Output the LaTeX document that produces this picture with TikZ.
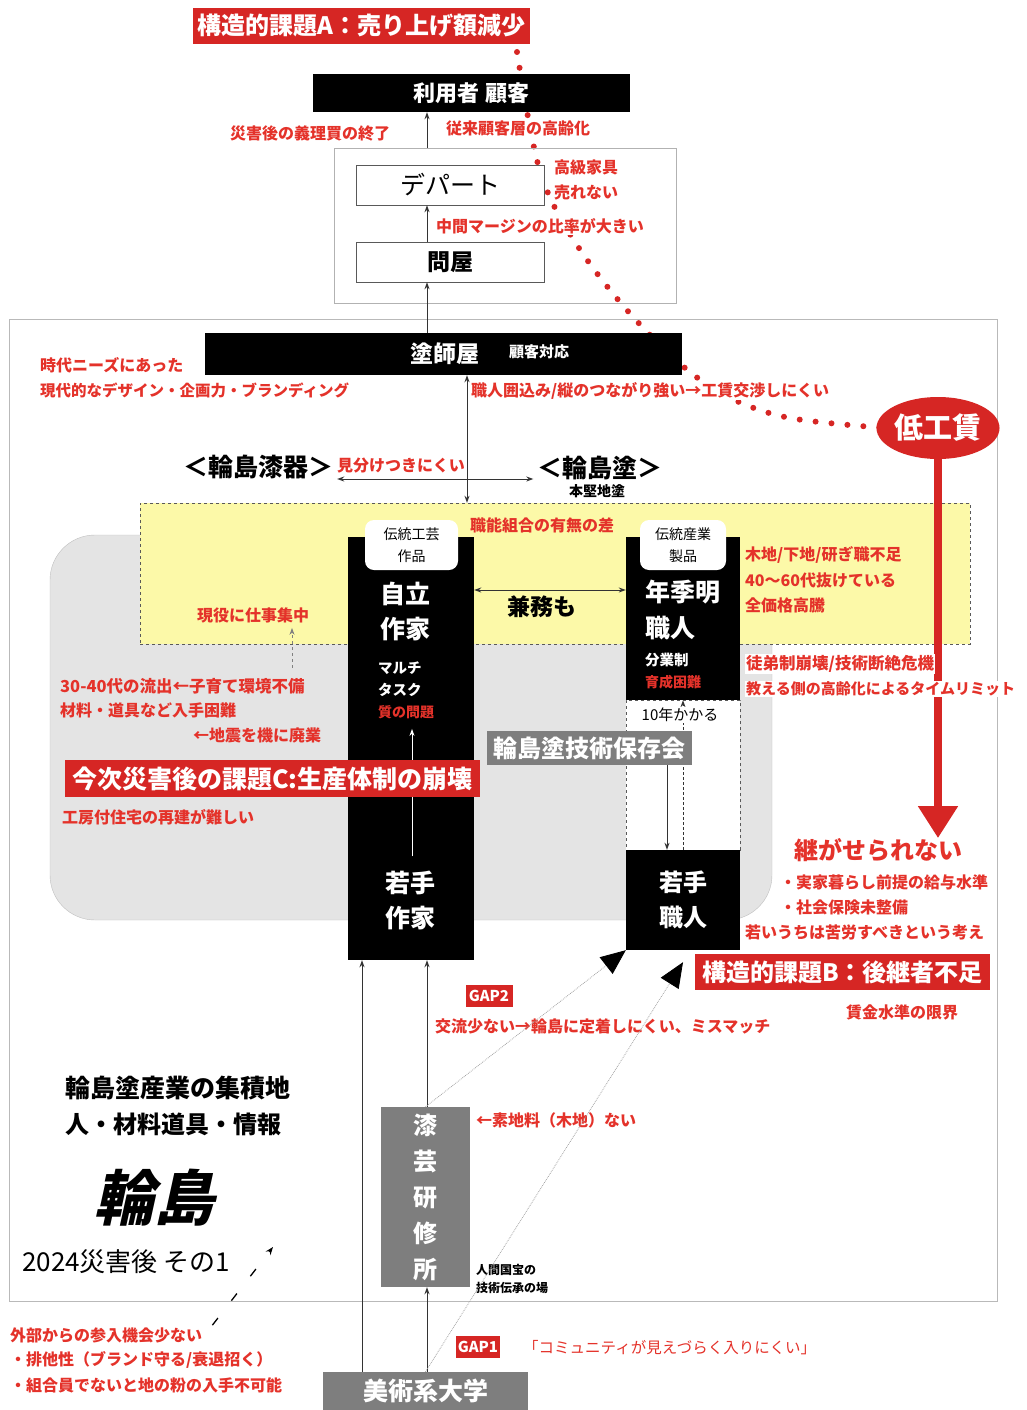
\documentclass[tikz,border=0pt]{standalone}
\usepackage{fontspec}
\setmainfont{Noto Sans CJK JP}
\usetikzlibrary{arrows.meta,positioning,calc,shapes.geometric}

\definecolor{akared}{RGB}{214,38,36}
\definecolor{memored}{RGB}{228,50,42}
\definecolor{panelgray}{RGB}{228,228,228}
\definecolor{boxgray}{RGB}{126,126,126}
\definecolor{pale}{RGB}{252,249,168}
\newcommand{\fsz}[1]{\fontsize{#1}{#1}\selectfont}

\tikzset{
  memo/.style={text=memored, font=\fsz{16}\bfseries, inner sep=0pt, anchor=west},
  blackbox/.style={fill=black, text=white, font=\fsz{23}\bfseries, inner sep=0pt},
  whitebox/.style={draw=gray!70!black, fill=white, inner sep=0pt},
  redbox/.style={fill=akared, text=white, font=\fsz{24}\bfseries, inner sep=0pt},
  graybox/.style={fill=boxgray, text=white, font=\fsz{24}\bfseries, inner sep=0pt},
  tagbox/.style={fill=white, rounded corners=9pt, font=\fontsize{14}{22}\selectfont, align=center, inner sep=0pt, minimum width=93pt, minimum height=50pt},
  intext/.style={text=white, font=\fontsize{25}{35}\selectfont\bfseries, inner sep=0pt},
  link/.style={draw=black!80, line width=1pt, -{Stealth[length=7pt,width=5pt]}},
  bilink/.style={link, {Stealth[length=7pt,width=5pt]}-{Stealth[length=7pt,width=5pt]}},
  gapline/.style={draw=gray!70, densely dotted, line width=0.8pt, -{Triangle[width=21pt,length=25pt,color=black]}},
}

\begin{document}
\begin{tikzpicture}[x=1pt, y=-1pt]
\useasboundingbox (0,0) rectangle (1027,1410);
\coordinate (spine) at (427,0);
\coordinate (vcol) at (467,0);
\coordinate (leftcol) at (362,0);
\coordinate (innercol) at (412,0);
\coordinate (kanecol) at (667,0);
\coordinate (yearcol) at (683,0);
\coordinate (dashcol) at (292,0);
\coordinate (kenrow) at (0,590);

% areas
\node[draw=gray!55, line width=1pt, minimum width=988pt, minimum height=982pt, inner sep=0pt] (frame) at (503,810) {};
\node[fill=panelgray, draw=gray!50, rounded corners=45pt, minimum width=722pt, minimum height=385pt, inner sep=0pt] (panel) at (411,727.5) {};
\node[fill=pale, draw=gray!70!black, dashed, minimum width=830pt, minimum height=141pt, inner sep=0pt] (zone) at (555,573.5) {};

% red dots A -> low wage
\draw[akared, line width=6pt, line cap=round, dash pattern=on 0pt off 16pt] plot[smooth, tension=0.6] coordinates {(517,52) (533,143) (548,193) (575,242) (610,290) (650,335) (690,372) (730,398) (790,418) (886,428)};

% top
\node[redbox, minimum width=337pt, minimum height=36pt] (issueA) at (361.5,26) {構造的課題A：売り上げ額減少};
\node[blackbox, minimum width=317pt, minimum height=38pt, font=\fsz{22}\bfseries] (user) at (471.5,93) {利用者 顧客};
\node[memo] (giri) at (230,133) {災害後の義理買の終了};
\node[memo, fill=white, inner sep=1pt] (elder) at (445,128) {従来顧客層の高齢化};
\node[draw=gray!60, line width=0.8pt, minimum width=342pt, minimum height=155pt, inner sep=0pt] (dist) at (505,225.5) {};
\node[whitebox, minimum width=188pt, minimum height=40pt, font=\fsz{25}] (dept) at (450,185) {デパート};
\node[whitebox, minimum width=188pt, minimum height=40pt, font=\fsz{23}\bfseries] (tonya) at (450,262) {問屋};
\node[memo, fill=white, inner sep=1pt] (kagu) at (553,167) {高級家具};
\node[memo, fill=white, inner sep=1pt] (urenai) at (553,192) {売れない};
\node[memo, fill=white, inner sep=1pt] (margin) at (435,226) {中間マージンの比率が大きい};

% nushiya
\node[blackbox, minimum width=477pt, minimum height=42pt] (nushi) at (443.5,354) {};
\node[text=white, font=\fsz{23}\bfseries, inner sep=0pt] (nushiname) at (445,354) {塗師屋};
\node[text=white, font=\fsz{15}\bfseries, inner sep=0pt] (nushirole) at (539,352) {顧客対応};
\node[memo] (jidai) at (40,365) {時代ニーズにあった};
\node[memo, font=\fsz{15.5}\bfseries] (gendai) at (40,390) {現代的なデザイン・企画力・ブランディング};
\node[memo, fill=white, inner sep=1pt] (kakoi) at (470,391) {職人囲込み/縦のつながり強い→工賃交渉しにくい};

\node[font=\fsz{25}\bfseries, inner sep=0pt] (shikki) at (258,467) {＜輪島漆器＞};
\node[font=\fsz{25}\bfseries, inner sep=0pt] (nuri) at (600,468) {＜輪島塗＞};
\node[font=\fsz{14}\bfseries, inner sep=0pt] (honkataji) at (597,491) {本堅地塗};
\node[memo] (miwake) at (337,466) {見分けつきにくい};

\draw[link] (dist.north -| spine) -- (user.south -| spine);
\draw[link] (tonya.north -| spine) -- (dept.south -| spine);
\draw[link] (nushi.north -| spine) -- (tonya.south -| spine);
\draw[bilink] (nushi.south -| vcol) -- (zone.north -| vcol);
\draw[bilink] ($(shikki.east)+(4,12)$) -- ($(nuri.west)+(-4,11)$);

% columns
\node[blackbox, minimum width=126pt, minimum height=423pt] (jiritsu) at (411,748.5) {};
\node[tagbox] (kogei) at (411.5,545) {伝統工芸\\作品};
\node[blackbox, minimum width=114pt, minimum height=163pt] (nenki) at (683,618.5) {};
\node[tagbox, minimum width=86pt] (sangyo) at (683,545) {伝統産業\\製品};
\node[draw=gray!70!black, dashed, fill=white, minimum width=114pt, minimum height=150pt, inner sep=0pt] (decade) at (683,775) {};
\node[blackbox, minimum width=114pt, minimum height=100pt, align=center, font=\fontsize{24}{35}\selectfont\bfseries] (wakashoku) at (683,900) {若手\\職人};

\node[intext, anchor=west, align=left] (jiritsuname) at (380,612) {自立\\作家};
\node[text=white, font=\fontsize{14.5}{22}\selectfont\bfseries, inner sep=0pt, anchor=west, align=left] (multi) at (378,679) {マルチ\\タスク};
\node[text=memored, font=\fsz{14}\bfseries, inner sep=0pt, anchor=west] (shitsu) at (378,712) {質の問題};
\node[intext, align=center] (wakasakka) at (410,900) {若手\\作家};
\node[intext, anchor=west, align=left, font=\fontsize{25}{36}\selectfont\bfseries] (nenkiname) at (645,610) {年季明\\職人};
\node[text=white, font=\fsz{14.5}\bfseries, inner sep=0pt, anchor=west] (bungyo) at (645,660) {分業制};
\node[text=memored, font=\fsz{14}\bfseries, inner sep=0pt, anchor=west] (ikusei) at (645,682) {育成困難};

\draw[link, draw=white, shorten <=14pt, shorten >=10pt] (wakasakka.north -| innercol) -- (shitsu.south -| innercol);
\draw[link, densely dashed] (wakashoku.north -| yearcol) -- (nenki.south -| yearcol);
\node[fill=white, font=\fsz{15}, inner sep=1pt] (tenyears) at (680,715) {10年かかる};
\node[graybox, minimum width=205pt, minimum height=34pt] (hozon) at (589.5,748) {輪島塗技術保存会};
\draw[link] (hozon.south -| kanecol) -- (wakashoku.north -| kanecol);

\draw[bilink] (jiritsu.east |- kenrow) -- (nenki.west |- kenrow);
\node[font=\fsz{23}\bfseries, inner sep=0pt] (kenmu) at (542,607) {兼務も};
\node[memo] (shokuno) at (470,525) {職能組合の有無の差};

% left notes
\node[memo] (genneki) at (197,615) {現役に仕事集中};
\node[memo, font=\fsz{16.5}\bfseries] (ryushutsu) at (60,686) {30-40代の流出←子育て環境不備};
\node[memo] (zairyo) at (60,710) {材料・道具など入手困難};
\node[memo] (haigyo) at (193,735) {←地震を機に廃業};
\draw[draw=gray, dashed, line width=1pt, -{Stealth[length=7pt,width=5pt]}, shorten <=10pt, shorten >=5pt] (ryushutsu.north -| dashcol) -- (genneki.south -| dashcol);
\node[redbox, minimum width=415pt, minimum height=37pt, font=\fsz{25}\bfseries] (issueC) at (272.5,778.5) {今次災害後の課題C:生産体制の崩壊};
\node[memo] (kobo) at (62,817) {工房付住宅の再建が難しい};

% right notes
\node[memo] (kiji) at (745,555) {木地/下地/研ぎ職不足};
\node[memo] (nuke) at (745,580) {40〜60代抜けている};
\node[memo] (koto) at (745,605) {全価格高騰};

\node[ellipse, fill=akared, minimum width=100pt, minimum height=62pt, inner sep=0pt, text=white, font=\fsz{29}\bfseries] (lowwage) at (938,428) {低工賃};
\node[memo, anchor=center, font=\fsz{24}\bfseries] (tsugase) at (878,850) {継がせられない};
\draw[akared, line width=8pt, -{Triangle[width=38pt,length=32pt]}] (lowwage.south) -- (tsugase.north -| lowwage.south);
\node[memo, fill=white, inner sep=1pt, font=\fsz{16.5}\bfseries] (totei) at (745,664) {徒弟制崩壊/技術断絶危機};
\node[memo, fill=white, inner sep=1pt, font=\fsz{15}\bfseries] (limit) at (745,689) {教える側の高齢化によるタイムリミット};
\node[memo] (jikka) at (780,882) {・実家暮らし前提の給与水準};
\node[memo] (shakai) at (780,907) {・社会保険未整備};
\node[memo] (kuro) at (745,932) {若いうちは苦労すべきという考え};
\node[redbox, minimum width=295pt, minimum height=36pt] (issueB) at (842.5,972) {構造的課題B：後継者不足};
\node[memo, anchor=center] (chingin) at (902,1012) {賃金水準の限界};

% bottom
\node[redbox, minimum width=47pt, minimum height=22pt, font=\fsz{15}\bfseries] (gap2) at (489,996) {GAP2};
\node[memo] (koryu) at (435,1026) {交流少ない→輪島に定着しにくい、ミスマッチ};
\node[graybox, minimum width=89pt, minimum height=180pt, align=center, font=\fontsize{24}{36}\selectfont\bfseries] (shitsugei) at (425.5,1197) {漆\\芸\\研\\修\\所};
\node[memo] (soji) at (476,1120) {←素地料（木地）ない};
\node[font=\fontsize{12}{18}\selectfont\bfseries, inner sep=0pt, anchor=west, align=left] (kokuho) at (476,1279) {人間国宝の\\技術伝承の場};
\node[graybox, minimum width=205pt, minimum height=38pt, font=\fsz{25}\bfseries] (bidai) at (425.5,1391) {美術系大学};
\node[redbox, minimum width=44pt, minimum height=22pt, font=\fsz{15}\bfseries] (gap1) at (478,1347) {GAP1};
\node[memo, font=\fsz{15.5}] (community) at (523,1348) {「コミュニティが見えづらく入りにくい」};

\draw[link] (bidai.north -| leftcol) -- (jiritsu.south -| leftcol);
\draw[link] (bidai.north -| spine) -- (shitsugei.south -| spine);
\draw[link] (shitsugei.north -| spine) -- (jiritsu.south -| spine);
\draw[gapline] (shitsugei.north) -- (wakashoku.south west);
\draw[gapline] (bidai.north) -- ($(wakashoku.south)+(0,12)$);

\node[font=\fsz{25}\bfseries, inner sep=0pt, anchor=west] (shuseki) at (65,1088) {輪島塗産業の集積地};
\node[font=\fsz{24}\bfseries, inner sep=0pt, anchor=west] (hito) at (65,1124) {人・材料道具・情報};
\node[font=\fsz{60}\bfseries, xslant=0.22, inner sep=0pt] (wajima) at (160,1198) {輪島};
\node[font=\fsz{26}, inner sep=0pt, anchor=west] (sonoichi) at (22,1262) {2024災害後 その1};
\node[memo] (gaibu) at (10,1335) {外部からの参入機会少ない};
\node[memo] (haita) at (10,1360) {・排他性（ブランド守る/衰退招く）};
\node[memo] (kumiai) at (10,1385) {・組合員でないと地の粉の入手不可能};
\coordinate (gaibutip) at (273,1247);
\draw[black, line width=1.3pt, dash pattern=on 9pt off 22pt, -{Stealth[length=8pt,width=6pt]}] ($(gaibu.north east)+(10,-2)$) -- (gaibutip);
\end{tikzpicture}
\end{document}
